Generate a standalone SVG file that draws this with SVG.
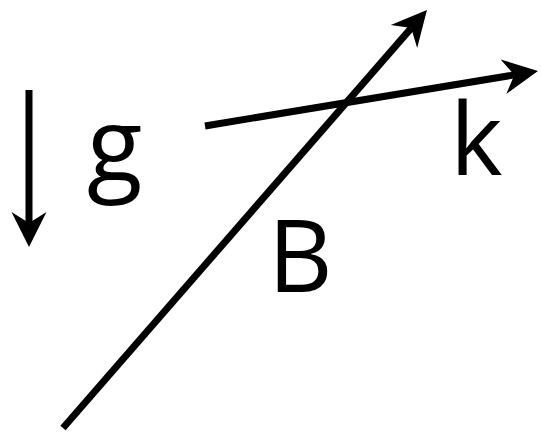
<svg xmlns="http://www.w3.org/2000/svg" width="541" height="433" viewBox="0 0 541 433">
<style>
.ln{stroke:#000;stroke-width:7;fill:none;marker-end:url(#ah)}
.lb{font-family:"Open Sans","Noto Sans",sans-serif;font-size:100px;font-weight:500;fill:#000}
</style>
<defs>
<marker id="ah" markerUnits="userSpaceOnUse" markerWidth="40" markerHeight="40" refX="11" refY="20" orient="auto" overflow="visible">
<path d="M35,20 L0,2.5 L11,20 L0,37.5 Z" fill="#000"/>
</marker>
</defs>
<rect width="541" height="433" fill="#fff"/>
<g id="connectors">
<line class="ln" x1="29" y1="90" x2="29" y2="223"/>
<line class="ln" x1="63" y1="428" x2="411.2" y2="28.1"/>
<line class="ln" x1="205" y1="126" x2="514.3" y2="74.9"/>
</g>
<g id="g"><text class="lb" x="87" y="181" style="font-size:102px">g</text></g>
<g id="k"><text class="lb" x="450" y="175">k</text></g>
<g id="B"><text class="lb" x="268" y="292">B</text></g>
</svg>
